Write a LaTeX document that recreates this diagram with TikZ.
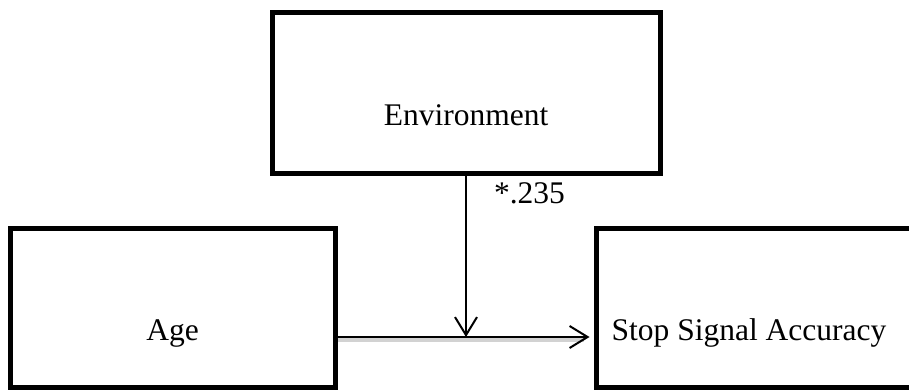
\documentclass[tikz,border=0pt]{standalone}
\usepackage{fontspec}
\setmainfont{Liberation Serif}
\usetikzlibrary{arrows.meta,positioning}
\tikzset{
  varbox/.style={draw, line width=2.5pt, minimum height=79.5pt, inner sep=0pt},
  varlab/.style={anchor=base, font=\fontsize{15.75}{19}\selectfont},
  pathln/.style={-{Straight Barb[length=9pt,width=11pt,line width=1pt]}, line width=1.3pt},
  shadeln/.style={line width=2pt, gray!35},
}

\begin{document}
\begin{tikzpicture}[x=0.5pt, y=-0.5pt]
  \clip (0,0) rectangle (909,390);
  % boxes for the three variables
  \node[varbox, minimum width=194pt, minimum height=80pt] (env) at (466,93) {};
  \node[varbox, minimum width=162.5pt] (age) at (172.5,307.5) {};
  \node[varbox, minimum width=180pt] (ssa) at (776,307.5) {};
  % names sit low in the boxes
  \node[varlab] (envlab) at ([yshift=-57.5pt]env.north) {Environment};
  \node[varlab] (agelab) at ([yshift=-57.5pt]age.north) {Age};
  \node[varlab] (ssalab) at ([yshift=-57.5pt]ssa.north -| 749,0) {Stop Signal Accuracy};
  % moderation paths
  \coordinate (join) at (466,337);
  \draw[shadeln] ([yshift=-1.4pt]age.east |- join) -- ([yshift=-1.4pt,xshift=-5pt]ssa.west |- join);
  \draw[pathln] (age.east |- join) -- ([xshift=-2pt]ssa.west |- join);
  \draw[pathln] (env.south) -- (join);
  \node[varlab, anchor=base west] (coef) at (487,203) {*.235};
\end{tikzpicture}
\end{document}
